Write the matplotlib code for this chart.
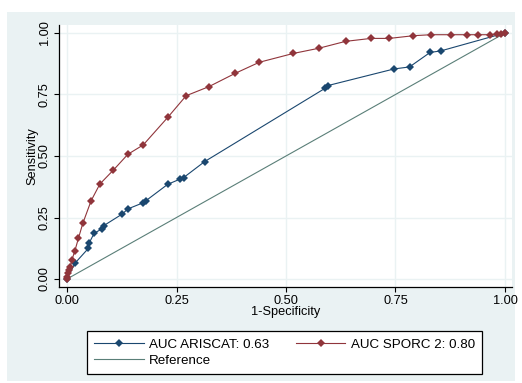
import matplotlib
matplotlib.use("Agg")
import matplotlib.pyplot as plt
from matplotlib.patches import Rectangle

plt.rcParams['font.family'] = ['Liberation Sans', 'DejaVu Sans']

# ARISCAT ROC points (1-specificity, sensitivity)
ariscat_x = [0.0, 0.018, 0.049, 0.051, 0.062, 0.079, 0.084, 0.126, 0.139, 0.174, 0.180,
             0.230, 0.258, 0.266, 0.314, 0.589, 0.595, 0.747, 0.782, 0.829, 0.853, 1.0]
ariscat_y = [0.0, 0.064, 0.125, 0.148, 0.186, 0.203, 0.217, 0.264, 0.285, 0.310, 0.318,
             0.385, 0.406, 0.412, 0.477, 0.775, 0.786, 0.854, 0.862, 0.921, 0.927, 1.0]

# SPORC 2 ROC points
sporc_x = [0.0, 0.001, 0.002, 0.005, 0.007, 0.011, 0.018, 0.026, 0.036, 0.055, 0.075,
           0.106, 0.139, 0.174, 0.230, 0.272, 0.324, 0.384, 0.439, 0.517, 0.575, 0.636,
           0.694, 0.736, 0.791, 0.831, 0.876, 0.913, 0.939, 0.966, 0.981, 0.992, 1.0]
sporc_y = [0.0, 0.010, 0.023, 0.037, 0.048, 0.077, 0.115, 0.165, 0.226, 0.318, 0.386,
           0.443, 0.507, 0.545, 0.657, 0.745, 0.782, 0.836, 0.881, 0.917, 0.938, 0.966,
           0.978, 0.978, 0.989, 0.993, 0.993, 0.993, 0.993, 0.993, 0.996, 0.997, 1.0]

ref_x = [0.0, 1.0]
ref_y = [0.0, 1.0]

ticks = [0.0, 0.25, 0.5, 0.75, 1.0]
tick_labels = ["0.00", "0.25", "0.50", "0.75", "1.00"]
labels = ["AUC ARISCAT: 0.63", "AUC SPORC 2: 0.80", "Reference"]

blue = "#1A476F"
red = "#90353B"
refc = "#5A7F78"
bg = "#EAF2F3"

fig = plt.figure(figsize=(5.22, 3.83), dpi=100, facecolor="white")
fig.patches.append(Rectangle((7/522, 2/383), 508/522, 369/383, transform=fig.transFigure,
                             facecolor=bg, edgecolor="none", zorder=-10))

ax = fig.add_axes([59/522, 1 - 287/383, 453/522, 262/383])
ax.set_facecolor("white")

ax.set_xlim(-0.0183, 1.016)
ax.set_ylim(-0.0325, 1.0325)

ax.set_xticks(ticks)
ax.set_xticklabels(tick_labels)
ax.set_yticks(ticks)
ax.set_yticklabels(tick_labels, rotation=90, va="center")
ax.grid(True, color=bg, linewidth=1.0)
ax.set_axisbelow(True)

for s in ["top", "right"]:
    ax.spines[s].set_visible(False)
for s in ["left", "bottom"]:
    ax.spines[s].set_color("black")
    ax.spines[s].set_linewidth(0.9)
ax.tick_params(direction="out", length=3.5, width=0.8, labelsize=9.2, pad=2.5, colors="black")

h1, = ax.plot(ariscat_x, ariscat_y, color=blue, marker="D", markersize=4.2, linewidth=0.8,
              markeredgewidth=0, label=labels[0], zorder=3)
h2, = ax.plot(sporc_x, sporc_y, color=red, marker="D", markersize=4.2, linewidth=0.8,
              markeredgewidth=0, label=labels[1], zorder=3)
h3, = ax.plot(ref_x, ref_y, color=refc, linewidth=0.8, label=labels[2], zorder=2)

ax.set_xlabel("1-Specificity", fontsize=9.2, labelpad=-1.0)
ax.set_ylabel("Sensitivity", fontsize=9.2, labelpad=0.5)

leg = fig.legend([h1, h3, h2], [labels[0], labels[2], labels[1]], ncol=2,
                 loc="upper left", bbox_to_anchor=(87/522, 1 - 331/383),
                 bbox_transform=fig.transFigure, borderaxespad=0,
                 fontsize=9.6, frameon=True, fancybox=False, handlelength=3.7,
                 handletextpad=0.4, labelspacing=0.3, borderpad=0.55, columnspacing=2.0)
fr = leg.get_frame()
fr.set_edgecolor("black")
fr.set_linewidth(0.9)
fr.set_facecolor("white")
fr.set_alpha(1)

fig.savefig("out.png", dpi=100, facecolor="white")
